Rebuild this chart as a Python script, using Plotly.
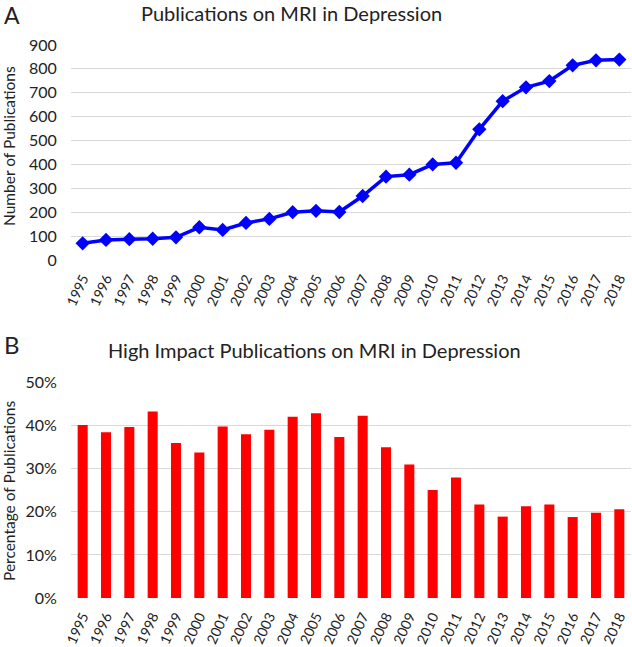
import plotly.graph_objects as go

years = [str(y) for y in range(1995, 2019)]
publications = [70, 84, 87, 89, 95, 137, 126, 155, 172, 200, 206, 201, 268, 349,
                357, 400, 407, 547, 665, 723, 749, 815, 836, 839]
high_impact_pct = [40.2, 38.5, 39.7, 43.3, 36.0, 33.8, 39.8, 38.0, 39.1, 42.1, 42.9, 37.4,
                   42.3, 35.0, 31.0, 25.1, 28.0, 21.7, 18.9, 21.3, 21.7, 18.8, 19.8, 20.6]
high_impact_frac = [v / 100 for v in high_impact_pct]

FONT = "Lato, Carlito, Calibri, 'Noto Sans', sans-serif"
TXT = "#222222"
GRID = "#d9d9d9"

W, H = 632, 647
L, R, T, B = 71, 1, 45, 49

fig = go.Figure()
fig.add_trace(go.Scatter(
    x=years, y=publications, mode="lines+markers",
    line=dict(color="#0000ff", width=3.5),
    marker=dict(symbol="diamond", size=11, color="#0000ff"),
    xaxis="x", yaxis="y", showlegend=False))
fig.add_trace(go.Bar(
    x=years, y=high_impact_frac, marker=dict(color="#ff0000", line_width=0),
    xaxis="x2", yaxis="y2", showlegend=False))

xcommon = dict(type="category", tickangle=-65, showgrid=False, zeroline=False,
               showline=False, ticks="outside", ticklen=4, tickcolor="rgba(0,0,0,0)",
               automargin=False,
               tickfont=dict(size=14, color=TXT, family=FONT),
               range=[-0.5, 23.5])
ycommon = dict(showgrid=True, gridcolor=GRID, gridwidth=1.3, zeroline=False, showline=False,
               ticks="outside", ticklen=10, tickcolor="rgba(0,0,0,0)", automargin=False,
               tickfont=dict(size=16, color=TXT, family=FONT))

pw, ph = W - L - R, H - T - B


def px(x):
    return (x - L) / pw


def py(y):
    return 1 - (y - T) / ph


fig.update_layout(
    width=W, height=H,
    margin=dict(l=L, r=R, t=T, b=B, autoexpand=False),
    plot_bgcolor="white", paper_bgcolor="white",
    font=dict(family=FONT, color=TXT),
    bargap=0.57,
    xaxis=dict(domain=[0, 1], anchor="y", **xcommon),
    yaxis=dict(domain=[py(260), 1], anchor="x", range=[0, 900], dtick=100, **ycommon),
    xaxis2=dict(domain=[0, 1], anchor="y2", **xcommon),
    yaxis2=dict(domain=[0, py(382.7)], anchor="x2", range=[0, 0.5], dtick=0.1,
                tickformat=".0%", **ycommon),
    annotations=[
        dict(text="A", x=px(2), y=py(-1), xanchor="left", yanchor="top",
             font=dict(size=23, color=TXT, family=FONT)),
        dict(text="Publications on MRI in Depression", x=px(291), y=py(13),
             xanchor="center", yanchor="middle",
             font=dict(size=20, color=TXT, family=FONT)),
        dict(text="B", x=px(2), y=py(328), xanchor="left", yanchor="top",
             font=dict(size=24, color=TXT, family=FONT)),
        dict(text="High Impact Publications on MRI in Depression", x=px(314.5), y=py(350),
             xanchor="center", yanchor="middle",
             font=dict(size=20, color=TXT, family=FONT)),
        dict(text="Number of Publications", x=px(9), y=py(146), textangle=-90,
             xanchor="center", yanchor="middle",
             font=dict(size=15.5, color=TXT, family=FONT)),
        dict(text="Percentage of Publications", x=px(9), y=py(491), textangle=-90,
             xanchor="center", yanchor="middle",
             font=dict(size=15.5, color=TXT, family=FONT)),
    ],
)
for a in fig.layout.annotations:
    a.xref = "paper"
    a.yref = "paper"
    a.showarrow = False

fig.write_html(
    "out.html",
    config={"displayModeBar": False},
    post_script="document.body.style.margin='0';document.body.style.overflow='hidden';",
)
